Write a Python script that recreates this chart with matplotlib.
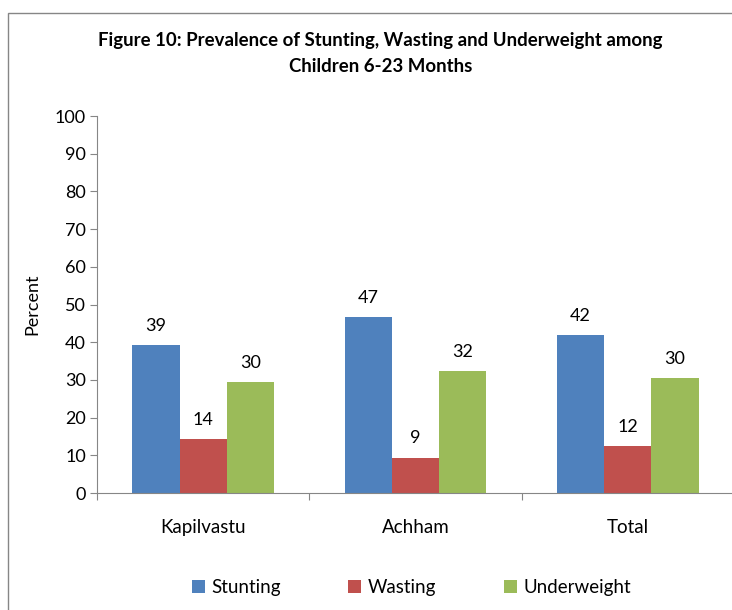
import matplotlib
matplotlib.use("Agg")
import matplotlib.pyplot as plt
import numpy as np
from matplotlib.patches import Rectangle

plt.rcParams["font.family"] = ["Lato", "DejaVu Sans"]

# data
categories = ["Kapilvastu", "Achham", "Total"]
series_names = ["Stunting", "Wasting", "Underweight"]
stunting = [39.3, 46.7, 41.9]
wasting = [14.4, 9.4, 12.5]
underweight = [29.4, 32.4, 30.5]
bar_labels = [[39, 47, 42], [14, 9, 12], [30, 32, 30]]
yticks = [0, 10, 20, 30, 40, 50, 60, 70, 80, 90, 100]

colors = ["#4F81BD", "#C0504D", "#9BBB59"]
axis_grey = "#868686"

fig = plt.figure(figsize=(7.32, 6.1), dpi=100)
ax = fig.add_axes([0.1325, 0.1918, 0.8702, 0.618])

# outer chart frame
fig.patches.append(Rectangle((8 / 732, -0.1), 1.2, 1 - 13 / 610 + 0.1,
                             transform=fig.transFigure, fill=False,
                             edgecolor=axis_grey, linewidth=1.0))

x = np.arange(len(categories))
width = 0.222
values = [stunting, wasting, underweight]
for i, (name, vals) in enumerate(zip(series_names, values)):
    pos = x + (i - 1) * width
    ax.bar(pos, vals, width=width, color=colors[i], label=name, zorder=2)
    for px, v, lab in zip(pos, vals, bar_labels[i]):
        ax.annotate(str(lab), (px, v), xytext=(0, 8), textcoords="offset points",
                    ha="center", va="bottom", fontsize=13, color="black")

ax.set_xlim(-0.5, len(categories) - 0.5)
ax.set_ylim(0, 100)
ax.set_yticks(yticks)
ax.tick_params(axis="y", labelsize=13, length=5, color=axis_grey, pad=3)

ax.set_xticks(np.arange(len(categories) + 1) - 0.5)
ax.set_xticklabels([])
ax.set_xticks(x, minor=True)
ax.set_xticklabels(categories, minor=True, fontsize=13.5)
ax.tick_params(axis="x", which="major", length=5, color=axis_grey)
ax.tick_params(axis="x", which="minor", length=0, pad=19)

for side in ["top", "right"]:
    ax.spines[side].set_visible(False)
for side in ["left", "bottom"]:
    ax.spines[side].set_color(axis_grey)

ax.set_ylabel("Percent", fontsize=13, labelpad=10)

fig.text(0.52, 0.934, "Figure 10: Prevalence of Stunting, Wasting and Underweight among",
         ha="center", va="center", fontsize=13.4, fontweight="bold")
fig.text(0.52, 0.891, "Children 6-23 Months",
         ha="center", va="center", fontsize=13.4, fontweight="bold")

fig.legend(loc="center", bbox_to_anchor=(0.562, 0.037), ncol=3, frameon=False,
           fontsize=13.5, handlelength=0.7, handleheight=0.7, columnspacing=3.6,
           handletextpad=0.35)

fig.savefig("out.png", dpi=100)
